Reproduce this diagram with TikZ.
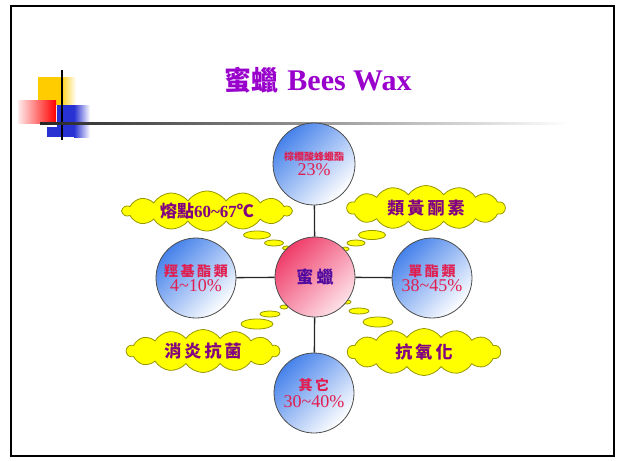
\documentclass[tikz,border=0pt]{standalone}
\usepackage{fontspec}
\setmainfont{Liberation Serif}
\newfontfamily\cjk{Noto Sans CJK TC}
\newfontfamily\cjkwide{Noto Sans CJK TC}[LetterSpace=18]
\usetikzlibrary{shapes.symbols,shapes.geometric}

\definecolor{titlepurple}{RGB}{153,0,204}
\definecolor{partred}{RGB}{225,30,80}
\definecolor{waxblue}{RGB}{80,10,160}
\definecolor{cloudpurple}{RGB}{130,0,130}
\definecolor{cloudyellow}{RGB}{255,255,0}
\definecolor{cloudline}{RGB}{150,150,0}
\definecolor{partblue}{RGB}{70,130,235}
\definecolor{waxpink}{RGB}{240,60,105}
\definecolor{decoyellow}{RGB}{255,204,0}
\definecolor{decoblue}{RGB}{40,50,210}

\begin{document}
\begin{tikzpicture}
    [x=1pt, y=-1pt,
     part/.style={circle, draw=gray!60!black, line width=0.8pt,
       inner sep=0pt, minimum size=80pt, align=center, text=partred,
       top color=partblue, bottom color=white, shading angle=45},
     wax/.style={part, top color=waxpink, bottom color=waxpink!15, shading angle=45,
       text=waxblue, font=\cjkwide\bfseries\fontsize{17}{17}\selectfont},
     thought/.style={cloud, cloud puffs=14, cloud puff arc=110, cloud ignores aspect,
       draw=cloudline, line width=0.8pt, fill=cloudyellow, inner sep=0pt, text=cloudpurple,
       font=\bfseries\fontsize{17}{17}\selectfont},
     bubble/.style={ellipse, draw=cloudline, line width=0.8pt, fill=cloudyellow, inner sep=0pt}]
    \def \rpart {80pt}
    \def \partcjk {\cjkwide\bfseries\fontsize{14}{16}\selectfont}
    \def \partnum {\fontsize{18}{20}\selectfont}

    \useasboundingbox (0,0) rectangle (625,461);
    \draw[line width=2pt] (11,6) rectangle (614,456);

    % corner decoration
    \fill[decoyellow] (38,77) rectangle (60,105);
    \shade[left color=decoyellow, right color=white] (60,77) rectangle (76,105);
    \shade[left color=red!8, right color=red] (18,100) rectangle (56,123);
    \fill[decoblue] (57,105) rectangle (74,137);
    \fill[decoblue] (47,127) rectangle (57,137);
    \shade[left color=decoblue, right color=white] (74,105) rectangle (90,137);
    \draw[line width=1.5pt] (62,70) -- (62,140);
    \shade[left color=black!85, middle color=black!55, right color=white]
      (40,122) rectangle (570,124.5);

    \node[text=titlepurple, font=\bfseries] (title) at (318,80)
      {{\cjk\fontsize{27}{27}\selectfont 蜜蠟}\hspace{9pt}{\fontsize{30}{30}\selectfont Bees Wax}};

    % thought bubbles
    \foreach \x/\y/\w/\h [count=\i] in
      {257/235/27/8, 274/243/19/6, 287/248/9/4,
       372/235/27/9, 356/243/18/6, 345/249/8/4,
       257/324/32/10, 270/314/20/6, 284/307/8/4,
       378/322/30/10, 359/311/20/6, 347/302/8/4}
    {
      \node[bubble, minimum width=\w pt, minimum height=\h pt] (b\i) at (\x,\y) {};
    }

    % components
    \node[wax] (wax) at (315,277) {蜜蠟};
    \node[part, minimum size=82pt] (palm) at (314,164)
      {{\cjk\bfseries\fontsize{10}{12}\selectfont 棕櫚酸蜂蠟酯}\\[1pt]{\partnum 23\%}};
    \node[part, minimum size=\rpart] (hydro) at (196,278)
      {{\partcjk 羥基酯類}\\[1pt]{\partnum 4\textasciitilde10\%}};
    \node[part, minimum size=\rpart] (mono) at (432,278)
      {{\partcjk 單酯類}\\[1pt]{\partnum 38\textasciitilde45\%}};
    \node[part, minimum size=\rpart] (other) at (314,393)
      {{\partcjk 其它}\\[3pt]{\partnum 30\textasciitilde40\%}};

    \foreach \s in {palm,hydro,mono,other}
    {
      \draw[line width=1.3pt, black!85] (wax) -- (\s);
    }

    % properties
    \node[thought, minimum width=169pt, minimum height=40pt] (melt) at (207,211)
      {{\cjk 熔點}60\textasciitilde67{\cjk ℃}};
    \node[thought, minimum width=158pt, minimum height=45pt] (flav) at (426,208)
      {\cjkwide 類黃酮素};
    \node[thought, minimum width=153pt, minimum height=43pt] (anti) at (203,351)
      {\cjkwide 消炎抗菌};
    \node[thought, minimum width=153pt, minimum height=47pt] (oxid) at (424,352)
      {\cjkwide 抗氧化};
  \end{tikzpicture}
\end{document}
